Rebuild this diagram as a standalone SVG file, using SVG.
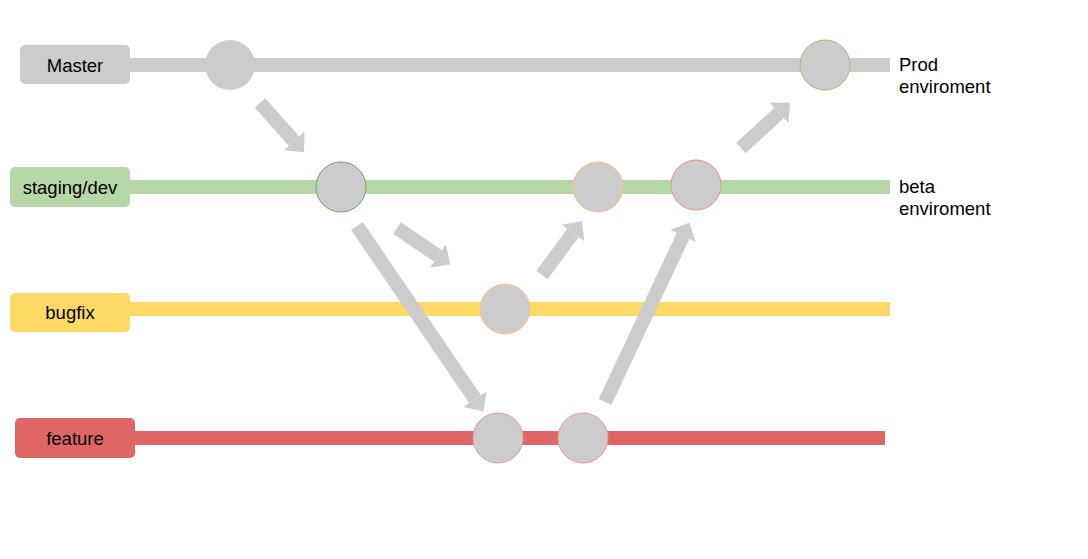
<svg xmlns="http://www.w3.org/2000/svg" width="1088" height="559" viewBox="0 0 1088 559">
<style>
text{font-family:"Liberation Sans",Arial,sans-serif;font-size:18.5px;fill:#000}
.lbl{text-anchor:middle}
.c{fill:#cccccc}
.arr{stroke:#cccccc;stroke-width:14;fill:none}
</style>
<defs>
<marker id="ah" markerUnits="userSpaceOnUse" markerWidth="16" markerHeight="28" refX="0" refY="14" orient="auto" viewBox="0 0 16 28">
<path d="M0,0 L15,14 L0,28 z" fill="#cccccc"/>
</marker>
</defs>
<rect width="1088" height="559" fill="#ffffff"/>
<g id="master">
<rect x="130" y="58" width="760" height="14" fill="#cccccc"/>
<rect x="20" y="45" width="110" height="39" rx="5" fill="#cccccc"/>
<text class="lbl" x="75" y="72">Master</text>
<circle class="c" cx="230" cy="65" r="25"/>
<circle class="c" cx="825" cy="65" r="25" stroke="#93c47d" stroke-width="1"/>
<text x="899" y="71">Prod</text>
<text x="899" y="93">enviroment</text>
</g>
<g id="staging">
<rect x="130" y="180" width="760" height="14" fill="#b6d7a8"/>
<rect x="10" y="167" width="120" height="40" rx="5" fill="#b6d7a8"/>
<text class="lbl" x="70" y="194">staging/dev</text>
<circle class="c" cx="341" cy="187" r="25" stroke="#6aa84f" stroke-width="1"/>
<circle class="c" cx="598" cy="187" r="25" stroke="#f9c08a" stroke-width="1"/>
<circle class="c" cx="696" cy="185" r="25" stroke="#e8928f" stroke-width="1"/>
<text x="899" y="193">beta</text>
<text x="899" y="215">enviroment</text>
</g>
<g id="bugfix">
<rect x="130" y="302" width="760" height="14" fill="#ffd966"/>
<rect x="10" y="293" width="120" height="39" rx="5" fill="#ffd966"/>
<text class="lbl" x="70" y="319">bugfix</text>
<circle class="c" cx="505" cy="309" r="25" stroke="#f9c08a" stroke-width="1"/>
</g>
<g id="feature">
<rect x="135" y="431" width="750" height="14" fill="#e06666"/>
<rect x="15" y="418" width="120" height="40" rx="5" fill="#e06666"/>
<text class="lbl" x="75" y="445">feature</text>
<circle class="c" cx="498" cy="438" r="25" stroke="#ea9999" stroke-width="1"/>
<circle class="c" cx="583" cy="438" r="25" stroke="#ea9999" stroke-width="1"/>
</g>
<g id="connectors">
<line class="arr" x1="260" y1="103" x2="294" y2="141" marker-end="url(#ah)"/>
<line class="arr" x1="357" y1="226" x2="475" y2="399" marker-end="url(#ah)"/>
<line class="arr" x1="397" y1="228" x2="438" y2="256" marker-end="url(#ah)"/>
<line class="arr" x1="542" y1="275" x2="573" y2="233" marker-end="url(#ah)"/>
<line class="arr" x1="605" y1="402" x2="683" y2="236" marker-end="url(#ah)"/>
<line class="arr" x1="741" y1="148" x2="779" y2="113" marker-end="url(#ah)"/>
</g>
</svg>
